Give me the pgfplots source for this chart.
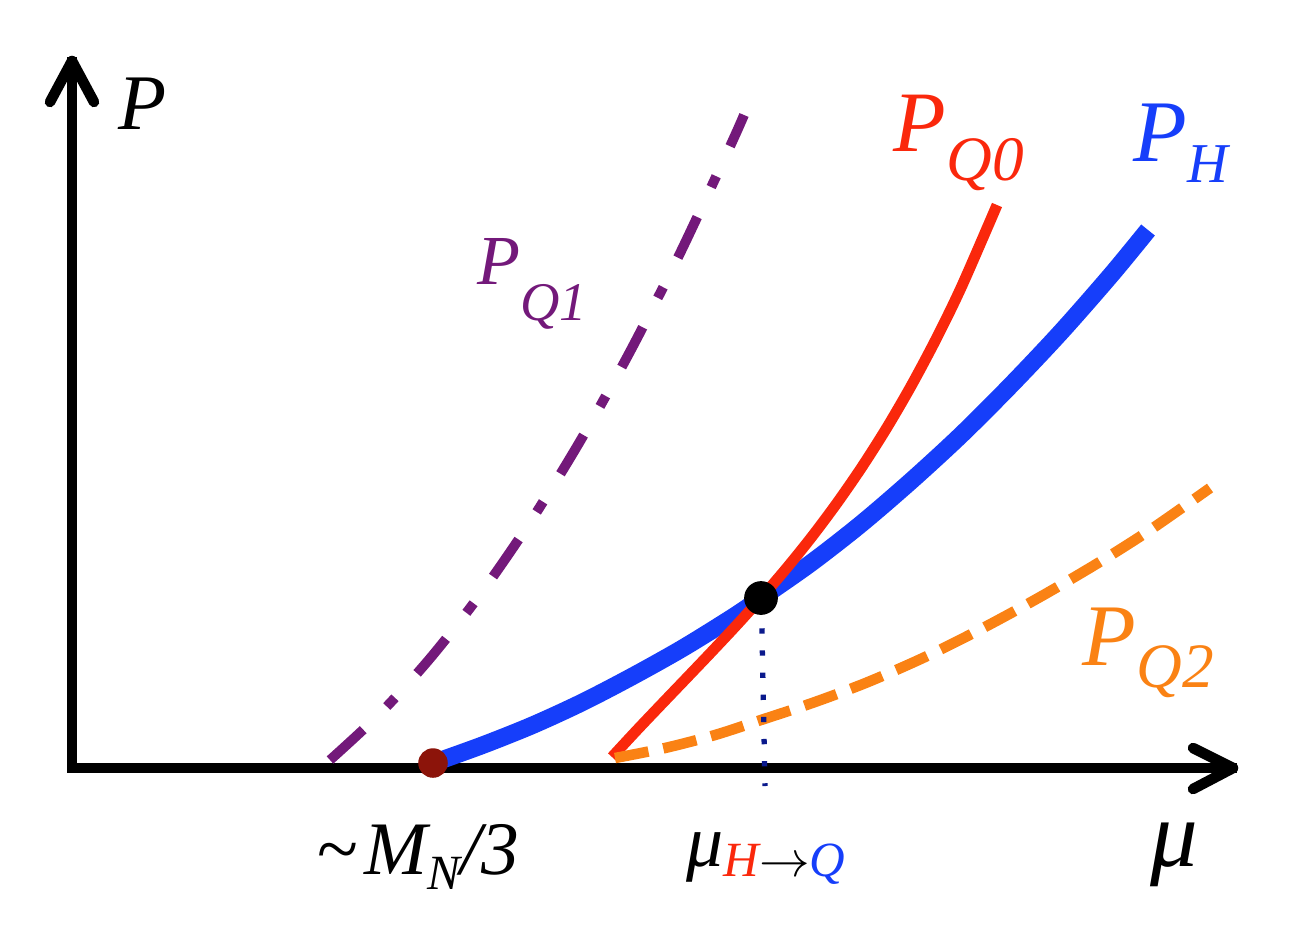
\documentclass[border=0pt]{standalone}
\usepackage{fontspec}
\setmainfont{Liberation Serif}
\usepackage{pgfplots}
\pgfplotsset{compat=1.18}
\definecolor{phBlue}{RGB}{22,62,250}
\definecolor{pqRed}{RGB}{250,40,12}
\definecolor{pqOrange}{RGB}{250,130,20}
\definecolor{pqPurple}{RGB}{115,25,122}
\definecolor{dotRed}{RGB}{140,20,10}
\definecolor{navy}{RGB}{10,25,140}

\begin{document}
\begin{tikzpicture}
\begin{axis}[
  hide axis, scale only axis,
  width=12.89cm, height=9.38cm,
  xmin=0, xmax=1289, ymin=0, ymax=938,
  y dir=reverse, clip=false
]
% bounding box of the whole picture
\path (axis cs:0,0) rectangle (axis cs:1289,938);

% axes with open arrow heads
\draw[line width=3pt, line cap=rect] (axis cs:72,768) -- (axis cs:72,62);
\draw[line width=3pt, line cap=rect] (axis cs:72,768) -- (axis cs:1232,768);
\draw[line width=3pt, line cap=round, line join=round]
  (axis cs:50,102) -- (axis cs:72,61) -- (axis cs:94,102);
\draw[line width=3pt, line cap=round, line join=round]
  (axis cs:1193,748) -- (axis cs:1233,768) -- (axis cs:1193,789);

% P_Q1 (dash-dot)
\addplot[pqPurple, line width=2.8pt, smooth,
  dash pattern=on 12.8pt off 9.4pt on 3.4pt off 9.4pt] coordinates {
  (330,760)(380,713.5)(430,658.4)(480,594.7)(530,522.3)(580,441.3)
  (630,351.6)(680,253.3)(730,146.4)(744,115)
};

% P_H
\addplot[phBlue, line width=5pt, smooth] coordinates {
  (433,763)(483,745)(533,725)(583,702)(633,676)(683,648)(733,617)(761,598)
  (811,563)(861,524)(911,481)(961,435)(1011,385)(1061,332)(1111,275)(1148,230)
};

% P_Q0
\addplot[pqRed, line width=3.1pt, smooth] coordinates {
  (612,757)(637,730.0)(662,703.7)(687,677.6)(712,651.4)(737,624.7)(761,598)
  (787,567.6)(812,536.5)(837,503.0)(862,466.8)(887,427.4)(912,384.3)
  (937,337.2)(962,285.6)(997,205)
};

% P_Q2 (dashed)
\addplot[pqOrange, line width=3pt, smooth,
  dash pattern=on 9.7pt off 4.3pt] coordinates {
  (615,758)(665,748)(715,735)(761,720)(815,702)(868,682)(925,657)
  (983,628)(1040,597)(1098,563)(1150,530)(1210,488)
};

% onset point
\addplot[only marks, mark=*, mark size=4pt,
  mark options={draw=dotRed, fill=dotRed}] coordinates {(433,763)};
% crossing point
\addplot[only marks, mark=*, mark size=4.6pt,
  mark options={draw=black, fill=black}] coordinates {(761,598)};
% dotted drop line
\addplot[navy, line width=1.5pt, dash pattern=on 1.5pt off 4.8pt]
  coordinates {(761,584)(765,786)};

% labels
\node[anchor=base west, inner sep=0pt] at (axis cs:118,130)
  {\fontsize{22.4}{24}\selectfont\itshape P};
\node[anchor=base west, inner sep=0pt] at (axis cs:1150,866)
  {\fontsize{27}{29}\selectfont\itshape μ};
\node[anchor=base west, inner sep=0pt, text=pqRed] at (axis cs:893,152)
  {\fontsize{24.5}{26}\selectfont\itshape P\raisebox{-8pt}{\fontsize{18}{20}\selectfont Q0}};
\node[anchor=base west, inner sep=0pt, text=phBlue] at (axis cs:1133,162)
  {\fontsize{25}{27}\selectfont\itshape P\raisebox{-5.7pt}{\fontsize{16}{18}\selectfont H}};
\node[anchor=base west, inner sep=0pt, text=pqPurple] at (axis cs:477,285)
  {\fontsize{20}{22}\selectfont\itshape P\raisebox{-10pt}{\fontsize{15.5}{17}\selectfont Q1}};
\node[anchor=base west, inner sep=0pt, text=pqOrange] at (axis cs:1082,665)
  {\fontsize{25}{27}\selectfont\itshape P\raisebox{-6.5pt}{\fontsize{18}{20}\selectfont Q2}};
\node[anchor=base west, inner sep=0pt] at (axis cs:316,874)
  {\fontsize{21.5}{23}\selectfont\itshape \textasciitilde\hspace{2pt}M\raisebox{-4.5pt}{\fontsize{14}{16}\selectfont N}/3};
\node[anchor=base west, inner sep=0pt] at (axis cs:686,866)
  {\fontsize{21}{23}\selectfont\itshape μ\raisebox{-2.9pt}{\fontsize{14}{16}\selectfont\textcolor{pqRed}{H}$\rightarrow$\textcolor{phBlue}{Q}}};
\end{axis}
\end{tikzpicture}
\end{document}
